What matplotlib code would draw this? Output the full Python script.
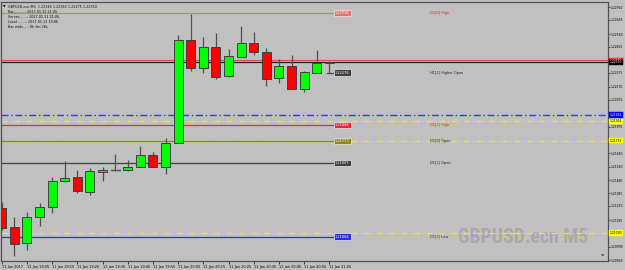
import numpy as np
import matplotlib
matplotlib.use("Agg")
import matplotlib.pyplot as plt
from matplotlib.patches import Rectangle
import matplotlib.transforms as mtransforms
from matplotlib import font_manager

# GBPUSD.ecn M5 candles, 11 Jan 2017
opens = [1.21277, 1.21136, 1.21014, 1.21206, 1.21280, 1.21474, 1.21504, 1.21391, 1.21541,
         1.21555, 1.21555, 1.21575, 1.21666, 1.21575, 1.21753, 1.22516, 1.22307, 1.22462,
         1.22250, 1.22393, 1.22492, 1.22430, 1.22238, 1.22326, 1.22154, 1.22275, 1.22346]
highs = [1.21321, 1.21210, 1.21247, 1.21309, 1.21506, 1.21622, 1.21555, 1.21568, 1.21580,
         1.21674, 1.21629, 1.21735, 1.21691, 1.21794, 1.22553, 1.22708, 1.22541, 1.22566,
         1.22450, 1.22620, 1.22577, 1.22455, 1.22374, 1.22405, 1.22287, 1.22442, 1.22363]
lows = [1.21112, 1.20920, 1.20964, 1.21142, 1.21235, 1.21469, 1.21383, 1.21371, 1.21476,
        1.21550, 1.21550, 1.21575, 1.21575, 1.21524, 1.21753, 1.22289, 1.22270, 1.22228,
        1.22245, 1.22393, 1.22405, 1.22176, 1.22196, 1.22154, 1.22134, 1.22275, 1.22275]
closes = [1.21129, 1.21006, 1.21208, 1.21284, 1.21474, 1.21499, 1.21402, 1.21546, 1.21555,
          1.21555, 1.21575, 1.21666, 1.21575, 1.21757, 1.22516, 1.22307, 1.22462, 1.22245,
          1.22398, 1.22492, 1.22425, 1.22226, 1.22326, 1.22154, 1.22280, 1.22344, 1.22350]

xtick_labels = ["11 Jan 2017", "11 Jan 19:05", "11 Jan 19:15", "11 Jan 19:25", "11 Jan 19:35",
                "11 Jan 19:45", "11 Jan 19:55", "11 Jan 20:05", "11 Jan 20:15", "11 Jan 20:25",
                "11 Jan 20:35", "11 Jan 20:45", "11 Jan 20:55", "11 Jan 21:05"]
ytick_values = [1.22760, 1.22665, 1.22560, 1.22465, 1.22275, 1.22170, 1.22075, 1.21875,
                1.21680, 1.21580, 1.21480, 1.21385, 1.21290, 1.21185, 1.20990, 1.20890]

# daily / hourly levels
level_names = ["D1[0] High", "H1[1] Higher Open", "D1[1] High", "D1[0] Open", "D1[1] Open", "D1[1] Low"]
level_values = [1.22716, 1.22276, 1.21888, 1.21773, 1.21607, 1.21064]
level_colors = ["#e87070", "#404040", "#e03030", "#8a8a20", "#404040", "#3030d0"]
level_text_colors = ["#e02020", "#202020", "#e02020", "#202020", "#202020", "#2020c0"]

ask = 1.22365
bid = 1.22350
blue_level = 1.21962
yellow_levels = [1.21914, 1.21773, 1.21090]

bg = "#c0c0c0"
fs = 2.5
fig = plt.figure(figsize=(6.25, 2.7), dpi=100, facecolor=bg)
ax = fig.add_axes([1 / 625, 9 / 270, 607 / 625, 259 / 270], facecolor=bg)
ax.set_xlim(-0.06, 48.12)
ax.set_ylim(1.20883, 1.22797)

# full-width lines
ax.axhline(ask, color="#e05050", lw=0.9, zorder=1)
ax.axhline(bid, color="#202020", lw=0.9, zorder=1)
ax.axhline(blue_level, color="#2040ff", lw=1.0, ls=(0, (5, 2, 1, 2)), zorder=1)
for yl in yellow_levels:
    ax.axhline(yl, color="#f0f000", lw=0.9, ls=(0, (5, 2, 1, 2)), zorder=1)

# level lines with boxes and names
box_x = 26.45
for name, val, col, tcol in zip(level_names, level_values, level_colors, level_text_colors):
    x0 = 25.8 if name.startswith("H1") else -0.06
    ax.plot([x0, box_x], [val, val], color=col, lw=0.9, zorder=2)
    ax.text(box_x, val, f"{val:.5f}", fontsize=fs, color="white", va="center", ha="left",
            bbox=dict(boxstyle="square,pad=0.3", fc=col, ec="#e8e8e8", lw=0.5), zorder=5)
    ax.text(34.0, val, name, fontsize=fs, color=tcol, va="center", ha="left", zorder=5)

# candles
w = 0.72
for i, (o, h, l, c) in enumerate(zip(opens, highs, lows, closes)):
    ax.plot([i, i], [l, h], color="#505050", lw=0.9, zorder=3, solid_capstyle="butt")
    if abs(c - o) < 0.00003:
        col = "#505050" if c == o else "#00a000"
        ax.plot([i - w / 2, i + w / 2], [c, c], color=col, lw=1.0, zorder=4)
        continue
    fc = "#00ff00" if c > o else "#ff0000"
    ax.add_patch(Rectangle((i - w / 2, min(o, c)), w, abs(c - o), fc=fc, ec="#404040",
                           lw=0.7, zorder=4))

# right price axis
ax.yaxis.tick_right()
ax.set_yticks(ytick_values)
ax.set_yticklabels([f"{v:.5f}" for v in ytick_values])
ax.tick_params(axis="y", labelsize=2.2, length=1.5, width=0.6, color="#303030", pad=0.6)

# bottom time axis
xt = np.arange(0, 27, 2)
ax.set_xticks(xt)
ax.set_xticklabels(xtick_labels, ha="left")
ax.tick_params(axis="x", labelsize=fs, length=2, width=0.6, color="#303030", pad=0.8)

for sp in ax.spines.values():
    sp.set_color("#505050")
    sp.set_linewidth(0.9)

# price boxes on the axis
tr = mtransforms.blended_transform_factory(ax.transAxes, ax.transData)
axis_boxes = [(ask, "#ff0000", "white"), (bid, "#000000", "white"), (blue_level, "#0000ff", "white")]
axis_boxes += [(yl, "#ffff00", "black") for yl in yellow_levels]
for val, fc, tc in axis_boxes:
    ax.text(1.0025, val, f"{val:.5f}", transform=tr, fontsize=2.2, color=tc, va="center", ha="left",
            bbox=dict(boxstyle="square,pad=0.3", fc=fc, ec=fc, lw=0.3), clip_on=False, zorder=6)

# header
hdr = ["GBPUSD.ecn,M5  1.22346 1.22363 1.22275 1.22350",
       "Bar..........: 2017.01.11 21:05",
       "Server.......: 2017.01.11 21:06",
       "Local........: 2017.01.11 19:06",
       "Bar ends....: 0h 3m 28s"]
ax.text(0.004, 0.99, "\u25bc", transform=ax.transAxes, fontsize=2.4, va="top", ha="left")
for k, line in enumerate(hdr):
    ax.text(0.012, 0.99 - k * 0.0195, line, transform=ax.transAxes,
            fontsize=2.4, va="top", ha="left", color="#101010")

# watermark: narrowest installed bold family, sized to the reference width
names = {f.name for f in font_manager.fontManager.ttflist}
wm_family = "DejaVu Sans"
for cand in ["Liberation Sans Narrow", "Roboto Condensed", "DejaVu Sans Condensed", "Open Sans Condensed"]:
    if cand in names:
        wm_family = cand
        break
wm = ax.text(0.967, 0.055, "GBPUSD.ecn M5", transform=ax.transAxes, fontsize=15, fontweight="bold",
             color="#a9a9a9", ha="right", va="bottom", zorder=0, family=wm_family)
fig.canvas.draw()
wpx = wm.get_window_extent().width
wm.set_fontsize(min(17, 15 * 131 / wpx))

# small corner mark
ax.text(0.993, 0.02, "\u2261", transform=ax.transAxes, fontsize=3, color="#404040",
        ha="right", va="bottom")

fig.savefig("out.png", dpi=100, facecolor=bg)
